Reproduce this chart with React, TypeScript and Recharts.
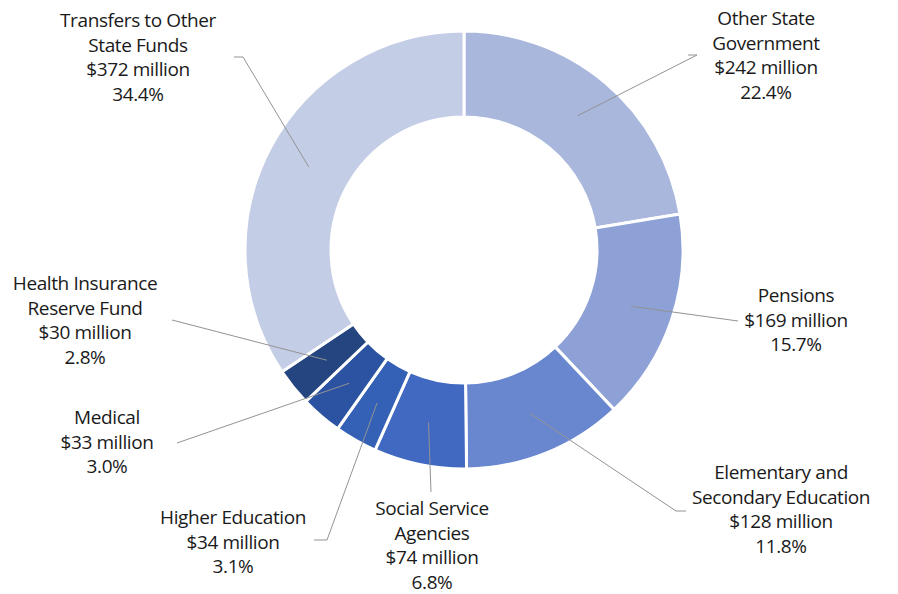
import React from 'react';
import { PieChart, Pie, Cell } from 'recharts';

const categories = [
  'Other State Government',
  'Pensions',
  'Elementary and Secondary Education',
  'Social Service Agencies',
  'Higher Education',
  'Medical',
  'Health Insurance Reserve Fund',
  'Transfers to Other State Funds',
];
const amounts = [242, 169, 128, 74, 34, 33, 30, 372];
const percents = ['22.4%', '15.7%', '11.8%', '6.8%', '3.1%', '3.0%', '2.8%', '34.4%'];
const labelLines = [
  ['Other State', 'Government'],
  ['Pensions'],
  ['Elementary and', 'Secondary Education'],
  ['Social Service', 'Agencies'],
  ['Higher Education'],
  ['Medical'],
  ['Health Insurance', 'Reserve Fund'],
  ['Transfers to Other', 'State Funds'],
];

const colors = ['#a9b7dd', '#8da1d6', '#6987cf', '#4169c1', '#3461b5', '#2c53a2', '#24457f', '#c4cde6'];

// label placement: text centre x, first baseline y, leader bend points
const layout = [
  { x: 766, y: 25, pts: [[697, 55], [688, 55]] },
  { x: 796, y: 302, pts: [[738, 321]] },
  { x: 781, y: 479, pts: [[676, 511], [686, 511]] },
  { x: 432, y: 515, pts: [[431, 492]] },
  { x: 233, y: 524, pts: [[327, 540], [314, 540]] },
  { x: 107, y: 424, pts: [[177, 443]] },
  { x: 85, y: 290, pts: [[172, 320]] },
  { x: 138, y: 27, pts: [[243, 57], [234, 57]] },
];

const data = categories.map((name, i) => ({ name, value: amounts[i] }));

const RAD = Math.PI / 180;

const renderLabel = (props: any) => {
  const { cx, cy, midAngle, innerRadius, outerRadius, index } = props;
  const r = (innerRadius + outerRadius) / 2;
  const sx = cx + r * Math.cos(-midAngle * RAD);
  const sy = cy + r * Math.sin(-midAngle * RAD);
  const l = layout[index];
  const pts = [[sx, sy], ...l.pts].map((p) => p.join(',')).join(' ');
  const lines = [...labelLines[index], `$${amounts[index]} million`, percents[index]];
  return (
    <g key={`lbl-${index}`}>
      <polyline points={pts} fill="none" stroke="#939393" strokeWidth={1} />
      <text
        x={l.x}
        y={l.y}
        textAnchor="middle"
        fill="#1a1a1a"
        fontSize={19}
        fontWeight={500}
        fontFamily="'Open Sans', 'Noto Sans', sans-serif"
        letterSpacing={-0.4}
      >
        {lines.map((t, j) => (
          <tspan key={j} x={l.x} dy={j === 0 ? 0 : 24.5}>
            {t}
          </tspan>
        ))}
      </text>
    </g>
  );
};

export default function App() {
  return (
    <div style={{ position: 'absolute', left: 0, top: 0, width: 898, height: 594, background: '#fff' }}>
      <PieChart width={898} height={594} margin={{ top: 0, right: 0, bottom: 0, left: 0 }}>
        <Pie
          data={data}
          dataKey="value"
          cx={464}
          cy={250}
          innerRadius={133}
          outerRadius={219}
          startAngle={90}
          endAngle={-270}
          stroke="#fff"
          strokeWidth={3}
          label={renderLabel}
          labelLine={false}
          isAnimationActive={false}
        >
          {data.map((d, i) => (
            <Cell key={d.name} fill={colors[i]} />
          ))}
        </Pie>
      </PieChart>
    </div>
  );
}
